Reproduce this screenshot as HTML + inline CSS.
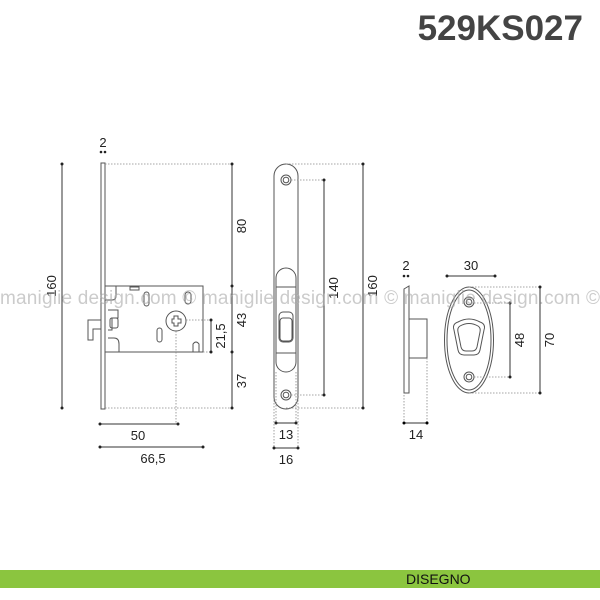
<!DOCTYPE html>
<html><head><meta charset="utf-8"><style>
html,body{margin:0;padding:0;background:#fff;width:600px;height:600px;overflow:hidden}
svg{display:block}
text{font-family:"Liberation Sans",sans-serif;fill:#222}
</style></head><body>
<svg width="600" height="600" viewBox="0 0 600 600" xmlns="http://www.w3.org/2000/svg">
<text x="583" y="40" text-anchor="end" font-size="35" font-weight="bold" style="fill:#444">529KS027</text>

<g stroke="#555" stroke-width="1" fill="none">
<!-- LEFT LOCK -->
<rect x="101" y="163" width="4" height="246" fill="#fff"/>
<rect x="105" y="286" width="98" height="66" fill="#fff"/>
<path d="M101 320 H88 V340 H93 V329 H101" />
<path d="M105 300 H112 Q116 300 116 296 V286"/>
<path d="M108 310 H118 V318 H112 V330 H108"/>
<rect x="110" y="318" width="8" height="10" rx="2"/>
<path d="M108 338 H114 Q119 338 119 344 V352"/>
<rect x="130" y="287" width="9" height="3"/>
<rect x="144" y="292" width="5" height="14" rx="2.5"/>
<rect x="185" y="292" width="6" height="12" rx="3"/>
<rect x="157" y="328" width="5" height="14" rx="2.5"/>
<circle cx="176" cy="321" r="10"/>
<path d="M172 319 H174 V316 H178 V319 H181 V323 H178 V326 H174 V323 H172 Z"/>
<path d="M193 352 V344 Q196 340 199 344 V352"/>
</g>
<g stroke="#888" stroke-width="0.8" stroke-dasharray="1.5,1.5" fill="none">
<line x1="105" y1="164" x2="232" y2="164"/>
<line x1="105" y1="408" x2="232" y2="408"/>
<line x1="186" y1="320" x2="211" y2="320"/>
<line x1="176" y1="331" x2="176" y2="424"/>
<line x1="203" y1="352" x2="211" y2="352"/>
</g>
<g stroke="#333" stroke-width="1">
<line x1="62" y1="164" x2="62" y2="408"/>
<line x1="232" y1="164" x2="232" y2="408"/>
<line x1="211" y1="320" x2="211" y2="352"/>
<line x1="100" y1="424" x2="178" y2="424"/>
<line x1="100" y1="447" x2="203" y2="447"/>
</g>
<g fill="#222">
<circle cx="62" cy="164" r="1.5"/><circle cx="62" cy="408" r="1.5"/>
<circle cx="232" cy="164" r="1.5"/><circle cx="232" cy="286" r="1.5"/><circle cx="232" cy="352" r="1.5"/><circle cx="232" cy="408" r="1.5"/>
<circle cx="211" cy="320" r="1.5"/><circle cx="211" cy="352" r="1.5"/>
<circle cx="100" cy="424" r="1.5"/><circle cx="178" cy="424" r="1.5"/>
<circle cx="100" cy="447" r="1.5"/><circle cx="203" cy="447" r="1.5"/>
<circle cx="101" cy="152" r="1.3"/><circle cx="105" cy="152" r="1.3"/>
<circle cx="404" cy="276" r="1.3"/><circle cx="408" cy="276" r="1.3"/>
</g>
<text x="103" y="147" font-size="13" text-anchor="middle">2</text>
<text x="138" y="440" font-size="13" text-anchor="middle">50</text>
<text x="153" y="463" font-size="13" text-anchor="middle">66,5</text>
<text transform="translate(56,286) rotate(-90)" font-size="13" text-anchor="middle">160</text>
<text transform="translate(246,226) rotate(-90)" font-size="13" text-anchor="middle">80</text>
<text transform="translate(246,320) rotate(-90)" font-size="13" text-anchor="middle">43</text>
<text transform="translate(246,381) rotate(-90)" font-size="13" text-anchor="middle">37</text>
<text transform="translate(225,336) rotate(-90)" font-size="13" text-anchor="middle">21,5</text>

<!-- FACEPLATE -->
<g stroke="#555" stroke-width="1" fill="none">
<rect x="274" y="164" width="24" height="245" rx="12" fill="#fff"/>
<rect x="276" y="268" width="20" height="104" rx="10"/>
<line x1="276" y1="287" x2="296" y2="287"/>
<line x1="276" y1="353" x2="296" y2="353"/>
<rect x="279" y="312" width="14" height="30" rx="4"/>
<rect x="280" y="318" width="12" height="23" rx="3"/>
<circle cx="286" cy="180" r="5"/><circle cx="286" cy="180" r="2.8"/>
<circle cx="286" cy="395" r="5"/><circle cx="286" cy="395" r="2.8"/>
</g>
<g stroke="#888" stroke-width="0.8" stroke-dasharray="1.5,1.5" fill="none">
<line x1="286" y1="164" x2="363" y2="164"/>
<line x1="286" y1="408" x2="363" y2="408"/>
<line x1="291" y1="180" x2="324" y2="180"/>
<line x1="291" y1="395" x2="324" y2="395"/>
<line x1="276" y1="372" x2="276" y2="423"/><line x1="296" y1="372" x2="296" y2="423"/>
<line x1="274" y1="400" x2="274" y2="448"/><line x1="298" y1="400" x2="298" y2="448"/>
</g>
<g stroke="#333" stroke-width="1">
<line x1="324" y1="180" x2="324" y2="395"/>
<line x1="363" y1="164" x2="363" y2="408"/>
<line x1="276" y1="423" x2="296" y2="423"/>
<line x1="274" y1="448" x2="298" y2="448"/>
</g>
<g fill="#222">
<circle cx="324" cy="180" r="1.5"/><circle cx="324" cy="395" r="1.5"/>
<circle cx="363" cy="164" r="1.5"/><circle cx="363" cy="408" r="1.5"/>
<circle cx="276" cy="423" r="1.5"/><circle cx="296" cy="423" r="1.5"/>
<circle cx="274" cy="448" r="1.5"/><circle cx="298" cy="448" r="1.5"/>
</g>
<text transform="translate(338,288) rotate(-90)" font-size="13" text-anchor="middle">140</text>
<text transform="translate(377,286) rotate(-90)" font-size="13" text-anchor="middle">160</text>
<text x="286" y="439" font-size="13" text-anchor="middle">13</text>
<text x="286" y="464" font-size="13" text-anchor="middle">16</text>

<!-- STRIKE SIDE -->
<g stroke="#555" stroke-width="1" fill="none">
<path d="M404 289 L409 286 V393 L404 393 Z" fill="#fff"/>
<rect x="409" y="319" width="18" height="39" fill="#fff"/>
</g>
<g stroke="#888" stroke-width="0.8" stroke-dasharray="1.5,1.5" fill="none">
<line x1="404" y1="395" x2="404" y2="423"/><line x1="427" y1="358" x2="427" y2="423"/>
</g>
<line x1="404" y1="423" x2="427" y2="423" stroke="#333"/>
<circle cx="404" cy="423" r="1.5"/><circle cx="427" cy="423" r="1.5"/>
<text x="406" y="270" font-size="13" text-anchor="middle">2</text>
<text x="416" y="439" font-size="13" text-anchor="middle">14</text>

<!-- STRIKE PLATE -->
<g stroke="#555" stroke-width="1" fill="none">
<ellipse cx="469" cy="340" rx="24.5" ry="53" fill="#fff"/>
<ellipse cx="469" cy="340" rx="22" ry="50"/>
<circle cx="469" cy="302" r="5"/><circle cx="469" cy="302" r="2.8"/>
<circle cx="469" cy="377" r="5"/><circle cx="469" cy="377" r="2.8"/>
<path d="M458 322 Q469 316 480 322 Q486 324 484 330 L480 350 Q479 355 474 355 H464 Q459 355 458 350 L454 330 Q452 324 458 322 Z"/>
<path d="M460 326 Q469 321 478 326 Q481 328 480 332 L477 347 Q476 351 472 351 H466 Q462 351 461 347 L458 332 Q457 328 460 326 Z"/>
</g>
<g stroke="#888" stroke-width="0.8" stroke-dasharray="1.5,1.5" fill="none">
<line x1="469" y1="287" x2="540" y2="287"/>
<line x1="469" y1="393" x2="540" y2="393"/>
<line x1="474" y1="303" x2="510" y2="303"/>
<line x1="474" y1="377" x2="510" y2="377"/>
</g>
<g stroke="#333" stroke-width="1">
<line x1="510" y1="303" x2="510" y2="377"/>
<line x1="540" y1="287" x2="540" y2="393"/>
<line x1="447" y1="276" x2="495" y2="276"/>
</g>
<g fill="#222">
<circle cx="510" cy="303" r="1.5"/><circle cx="510" cy="377" r="1.5"/>
<circle cx="540" cy="287" r="1.5"/><circle cx="540" cy="393" r="1.5"/>
<circle cx="447" cy="276" r="1.5"/><circle cx="495" cy="276" r="1.5"/>
</g>
<text x="471" y="270" font-size="13" text-anchor="middle">30</text>
<text transform="translate(524,340) rotate(-90)" font-size="13" text-anchor="middle">48</text>
<text transform="translate(554,340) rotate(-90)" font-size="13" text-anchor="middle">70</text>

<!-- watermark -->
<text x="0" y="304" font-size="19" style="fill:#aaa;opacity:0.6" textLength="600" lengthAdjust="spacing">maniglie design.com © maniglie design.com © maniglie design.com ©</text>

<rect x="0" y="570" width="600" height="18" fill="#8bc53f"/>
<text x="406" y="584" font-size="14" style="fill:#111">DISEGNO</text>
</svg>
</body></html>
